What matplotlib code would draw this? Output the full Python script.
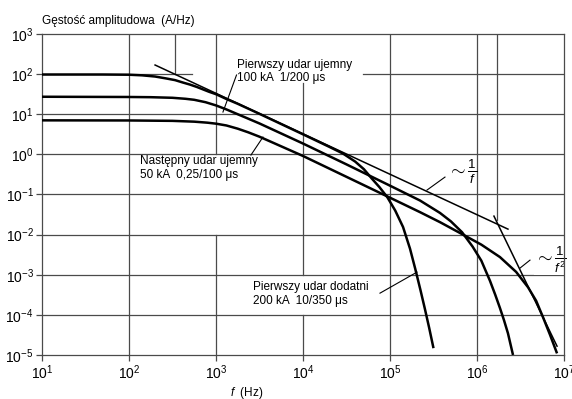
import numpy as np
import matplotlib.pyplot as plt

plt.rcParams['font.family'] = ['Liberation Sans', 'DejaVu Sans']
plt.rcParams['mathtext.fontset'] = 'custom'
plt.rcParams['mathtext.rm'] = 'Liberation Sans'
plt.rcParams['mathtext.it'] = 'Liberation Sans:italic'

# --------- data (log10 of f and of amplitude density) ---------

# Pierwszy udar dodatni 200 kA 10/350 us
logf_a = [1.0, 1.7, 2.0, 2.15, 2.3, 2.42, 2.53, 2.62, 2.7, 2.78, 2.85, 2.92, 3.0, 3.12, 3.25,
          3.5, 4.0, 4.3, 4.46, 4.6, 4.7, 4.79, 4.88, 4.97, 5.06, 5.15, 5.23, 5.29, 5.35,
          5.40, 5.45, 5.5]
logy_a = [1.99, 1.99, 1.985, 1.97, 1.94, 1.895, 1.85, 1.79, 1.74, 1.68, 1.62, 1.56, 1.50, 1.38,
          1.26, 1.01, 0.50, 0.19, 0.02, -0.18, -0.37, -0.60, -0.82, -1.07, -1.40, -1.81,
          -2.35, -2.85, -3.38, -3.84, -4.32, -4.83]

# Pierwszy udar ujemny 100 kA 1/200 us
logf_b = [1.0, 2.0, 2.25, 2.5, 2.65, 2.75, 2.88, 3.0, 3.12, 3.25, 3.37, 3.5, 3.75, 4.0, 4.5,
          5.0, 5.345, 5.575, 5.70, 5.828, 5.95, 6.05, 6.149, 6.21, 6.264, 6.31, 6.356, 6.414]
logy_b = [1.436, 1.43, 1.425, 1.41, 1.385, 1.36, 1.30, 1.22, 1.12, 1.0, 0.89, 0.77, 0.52, 0.27,
          -0.25, -0.78, -1.15, -1.46, -1.67, -1.94, -2.30, -2.65, -3.15, -3.50, -3.83,
          -4.13, -4.46, -5.0]

# Nastepny udar ujemny 50 kA 0,25/100 us
logf_c = [1.0, 2.0, 2.5, 2.75, 2.9, 3.0, 3.12, 3.25, 3.37, 3.5, 3.75, 4.0, 4.5, 5.0, 5.345,
          5.575, 5.805, 6.05, 6.264, 6.45, 6.586, 6.68, 6.759, 6.84, 6.92]
logy_c = [0.848, 0.845, 0.835, 0.815, 0.79, 0.765, 0.72, 0.64, 0.55, 0.44, 0.20, -0.04, -0.56,
          -1.08, -1.44, -1.69, -1.96, -2.25, -2.56, -2.93, -3.31, -3.65, -4.06, -4.50, -4.96]

# asymptote lines ~1/f and ~1/f^2
logf_inv1 = [2.30, 6.356]
logy_inv1 = [2.227, -1.863]
logf_inv2 = [6.195, 6.92]
logy_inv2 = [-1.539, -4.78]

x_ticks = [1, 2, 3, 4, 5, 6, 7]
y_ticks = [-5, -4, -3, -2, -1, 0, 1, 2, 3]

grid_c = '#4a4a4a'

# --------- plot ---------

fig = plt.figure(figsize=(5.72, 3.99), dpi=100)
ax = fig.add_axes([0.0734, 0.1103, 0.9126, 0.8045])
ax.set_xscale('log')
ax.set_yscale('log')
ax.set_xlim(1e1, 1e7)
ax.set_ylim(1e-5, 1e3)

# grid drawn by hand, with the gaps left for the labels
hgrid = {2: [(1, 2.72), (4.69, 7)], 1: [(1, 7)], 0: [(1, 7)], -1: [(1, 7)],
         -2: [(1, 7)], -3: [(1, 7)], -4: [(1, 7)]}
vgrid = {2: [(-5, 3)], 2.53: [(2, 3)], 3: [(0, 3), (-5, -2)], 4: [(-5, -4), (-3, 1.78)],
         5: [(-5, 3)], 6: [(-5, 3)], 6.23: [(-1.64, 3)]}
for yv, segs in hgrid.items():
    for x0, x1 in segs:
        ax.plot([10**x0, 10**x1], [10**yv, 10**yv], color=grid_c, lw=0.9, zorder=1)
for xv, segs in vgrid.items():
    for y0, y1 in segs:
        ax.plot([10**xv, 10**xv], [10**y0, 10**y1], color=grid_c, lw=0.9, zorder=1)

for lf, ly in [(logf_a, logy_a), (logf_b, logy_b), (logf_c, logy_c)]:
    ax.plot(10**np.array(lf), 10**np.array(ly), color='black', lw=1.8, zorder=3,
            solid_capstyle='butt', solid_joinstyle='round')
ax.plot(10**np.array(logf_inv1), 10**np.array(logy_inv1), color='black', lw=1.1, zorder=3)
ax.plot(10**np.array(logf_inv2), 10**np.array(logy_inv2), color='black', lw=1.1, zorder=3)

# labels + pointer lines
fs = 8.5
def pointer(p0, p1):
    ax.plot([10**p0[0], 10**p1[0]], [10**p0[1], 10**p1[1]], color='black', lw=0.8, zorder=3)

ax.text(10**3.24, 10**2.06, 'Pierwszy udar ujemny\n100 kA  1/200 \u03bcs', fontsize=fs,
        va='center', ha='left', linespacing=1.15)
pointer((3.236, 1.978), (3.080, 1.055))

ax.text(10**2.13, 10**-0.34, 'Nast\u0119pny udar ujemny\n50 kA  0,25/100 \u03bcs', fontsize=fs,
        va='center', ha='left', linespacing=1.15)
pointer((3.402, -0.017), (3.540, 0.431))

ax.text(10**3.42, 10**-3.48, 'Pierwszy udar dodatni\n200 kA  10/350 \u03bcs', fontsize=fs,
        va='center', ha='left', linespacing=1.15)
pointer((4.885, -3.459), (5.310, -2.935))

ax.text(10**5.65, 10**-0.45, r'$\sim\frac{1}{f}$', fontsize=13.5, va='center', ha='left')
pointer((5.632, -0.566), (5.425, -0.890))

ax.text(10**6.66, 10**-2.62, r'$\sim\frac{1}{f^2}$', fontsize=13.5, va='center', ha='left',
        zorder=2, bbox=dict(facecolor='white', edgecolor='none', pad=0.3))
pointer((6.609, -2.636), (6.494, -2.835))

ax.text(0.0, 1.04, 'G\u0119sto\u015b\u0107 amplitudowa  (A/Hz)', transform=ax.transAxes,
        fontsize=8.5, va='center', ha='left')
ax.set_xlabel(r'$f$  (Hz)', fontsize=8.5)
ax.xaxis.set_label_coords(0.393, -0.092)

ax.set_xticks([10.0**k for k in x_ticks])
ax.set_xticklabels([r'$10^{%d}$' % k for k in x_ticks])
ax.set_yticks([10.0**k for k in y_ticks])
ax.set_yticklabels([r'$10^{%d}$' % k for k in y_ticks])
ax.minorticks_off()
ax.tick_params(direction='out', length=4, width=0.9, color=grid_c, labelsize=10, pad=2)
for s in ax.spines.values():
    s.set_color(grid_c)
    s.set_linewidth(0.9)

fig.savefig('out.png', dpi=100)
